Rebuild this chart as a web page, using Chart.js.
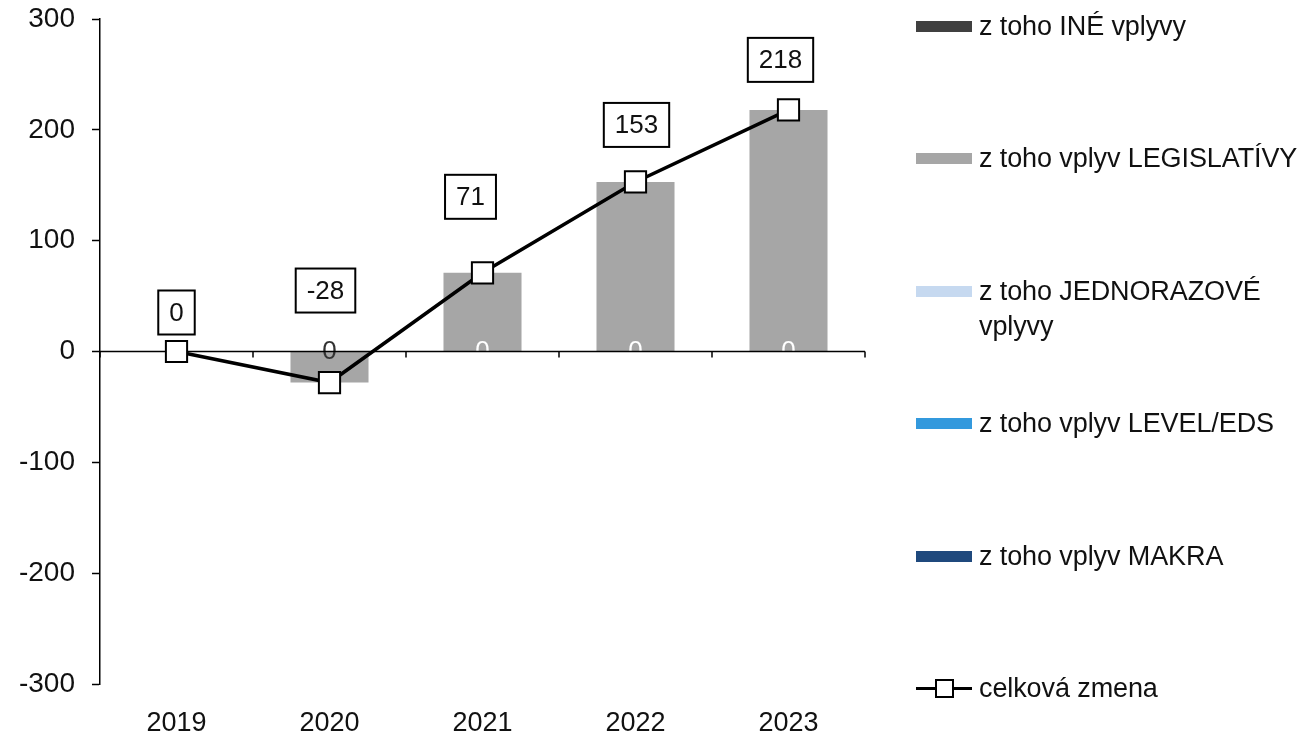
<!DOCTYPE html>
<html>
<head>
<meta charset="utf-8">
<script src="https://cdn.jsdelivr.net/npm/chart.js@4/dist/chart.umd.min.js"></script>
<style>
  html, body { margin: 0; padding: 0; background: #fff; overflow: hidden; }
  #wrap { position: relative; width: 1309px; height: 735px; }
  #chart { position: absolute; left: 0; top: 0; }
  #legend { position: absolute; left: 916px; top: 0; font-family: "Liberation Sans", Arial, sans-serif; font-size: 27px; color: #111; }
  .item { position: absolute; left: 0; width: 400px; }
  .sw { position: absolute; left: 0; width: 56px; height: 11px; }
  .txt { position: absolute; left: 63px; width: 330px; line-height: 35px; letter-spacing: -0.1px; }
</style>
</head>
<body>
<div id="wrap">
  <canvas id="chart" width="1309" height="735"></canvas>
  <div id="legend"></div>
</div>
<script>
const years = ["2019", "2020", "2021", "2022", "2023"];
const ineVplyvy = [0, 0, 0, 0, 0];
const legislativa = [0, -28, 71, 153, 218];
const jednorazove = [0, 0, 0, 0, 0];
const levelEds = [0, 0, 0, 0, 0];
const makro = [0, 0, 0, 0, 0];
const celkovaZmena = [0, -28, 71, 153, 218];

const FONT = "'Liberation Sans', Arial, sans-serif";

// where Excel left the boxed labels (pixels from the point)
const boxOffsets = [[0, -39], [-4, -92], [-12, -76], [1, -57], [-8, -50]];
// colour of the "0" labels of the MAKRA series
const zeroColors = ["#ffffff", "#333333", "#ffffff", "#ffffff", "#ffffff"];

const axisAndLabels = {
  id: "axisAndLabels",
  // after all bars, before the line
  beforeDatasetDraw(chart, args) {
    if (args.index !== 5) return;
    const ctx = chart.ctx;
    const x = chart.scales.x, y = chart.scales.y;
    const y0 = y.getPixelForValue(0);
    ctx.save();
    // "0" labels
    const meta = chart.getDatasetMeta(4);
    ctx.font = "26px " + FONT;
    ctx.textAlign = "center";
    ctx.textBaseline = "middle";
    meta.data.forEach((el, i) => {
      ctx.fillStyle = zeroColors[i];
      ctx.fillText(String(makro[i]), el.x, y0);
    });
    // zero axis
    ctx.strokeStyle = "#000";
    ctx.lineWidth = 1.5;
    ctx.beginPath();
    ctx.moveTo(x.left, y0);
    ctx.lineTo(x.right, y0);
    // ticks between categories
    const half = (x.right - x.left) / years.length / 2;
    for (let i = 0; i < years.length; i++) {
      const px = x.getPixelForValue(i) + half;
      ctx.moveTo(px, y0);
      ctx.lineTo(px, y0 + 6);
    }
    ctx.moveTo(x.left, y0);
    ctx.lineTo(x.left, y0 + 6);
    ctx.stroke();
    ctx.restore();
  },
  afterDatasetsDraw(chart) {
    const ctx = chart.ctx;
    const meta = chart.getDatasetMeta(5);
    ctx.save();
    ctx.font = "26px " + FONT;
    ctx.textAlign = "center";
    ctx.textBaseline = "middle";
    meta.data.forEach((pt, i) => {
      const txt = String(celkovaZmena[i]);
      const w = ctx.measureText(txt).width + 22;
      const h = 44;
      const cx = pt.x + boxOffsets[i][0];
      const cy = pt.y + boxOffsets[i][1];
      ctx.fillStyle = "#fff";
      ctx.fillRect(cx - w / 2, cy - h / 2, w, h);
      ctx.strokeStyle = "#000";
      ctx.lineWidth = 2;
      ctx.strokeRect(cx - w / 2, cy - h / 2, w, h);
      ctx.fillStyle = "#111";
      ctx.fillText(txt, cx, cy + 1);
    });
    ctx.restore();
  }
};

const chart = new Chart(document.getElementById("chart"), {
  type: "bar",
  data: {
    labels: years,
    datasets: [
      { label: "z toho INÉ vplyvy", data: ineVplyvy, backgroundColor: "#404040", order: 1 },
      { label: "z toho vplyv LEGISLATÍVY", data: legislativa, backgroundColor: "#a6a6a6", order: 1 },
      { label: "z toho JEDNORAZOVÉ vplyvy", data: jednorazove, backgroundColor: "#c6d9f0", order: 1 },
      { label: "z toho vplyv LEVEL/EDS", data: levelEds, backgroundColor: "#3399dd", order: 1 },
      { label: "z toho vplyv MAKRA", data: makro, backgroundColor: "#1f497d", order: 1 },
      {
        type: "line", label: "celková zmena", data: celkovaZmena, order: 0,
        borderColor: "#000", borderWidth: 3.5,
        pointStyle: "rect", pointRadius: 15, pointBackgroundColor: "#fff",
        pointBorderColor: "#000", pointBorderWidth: 2
      }
    ]
  },
  options: {
    responsive: false,
    animation: false,
    layout: { padding: { left: 0, top: 19, right: 444, bottom: 0 } },
    plugins: { legend: { display: false }, tooltip: { enabled: false } },
    datasets: { bar: { barPercentage: 0.51, categoryPercentage: 1 } },
    scales: {
      x: {
        stacked: true,
        grid: { display: false },
        border: { display: false },
        ticks: { color: "#111", font: { family: FONT, size: 27 }, padding: 15 },
        afterFit: s => { s.height = 51; }
      },
      y: {
        stacked: true,
        min: -300, max: 300,
        ticks: { stepSize: 100, color: "#111", font: { family: FONT, size: 28 }, padding: 17 },
        grid: { drawOnChartArea: false, tickLength: 8, tickColor: "#000", tickWidth: 1.5 },
        border: { display: true, color: "#000", width: 1.5 },
        afterFit: s => { s.width = 100; s.paddingTop = 0; s.paddingBottom = 0; }
      }
    }
  },
  plugins: [axisAndLabels]
});

// legend to the right, built from the datasets
const legend = document.getElementById("legend");
chart.data.datasets.forEach((ds, i) => {
  const cy = 26 + 132.5 * i;
  const item = document.createElement("div");
  item.className = "item";
  item.style.top = (cy - 17.5) + "px";
  if (ds.type === "line") {
    item.innerHTML =
      '<svg width="58" height="35" style="position:absolute;left:0;top:0">' +
      '<line x1="0" y1="17.5" x2="56" y2="17.5" stroke="#000" stroke-width="3"/>' +
      '<rect x="20" y="9" width="17" height="17" fill="#fff" stroke="#000" stroke-width="2"/></svg>';
  } else {
    item.innerHTML = '<div class="sw" style="top:12px;background:' + ds.backgroundColor + '"></div>';
  }
  const t = document.createElement("div");
  t.className = "txt";
  t.textContent = ds.label;
  item.appendChild(t);
  legend.appendChild(item);
});
</script>
</body>
</html>
